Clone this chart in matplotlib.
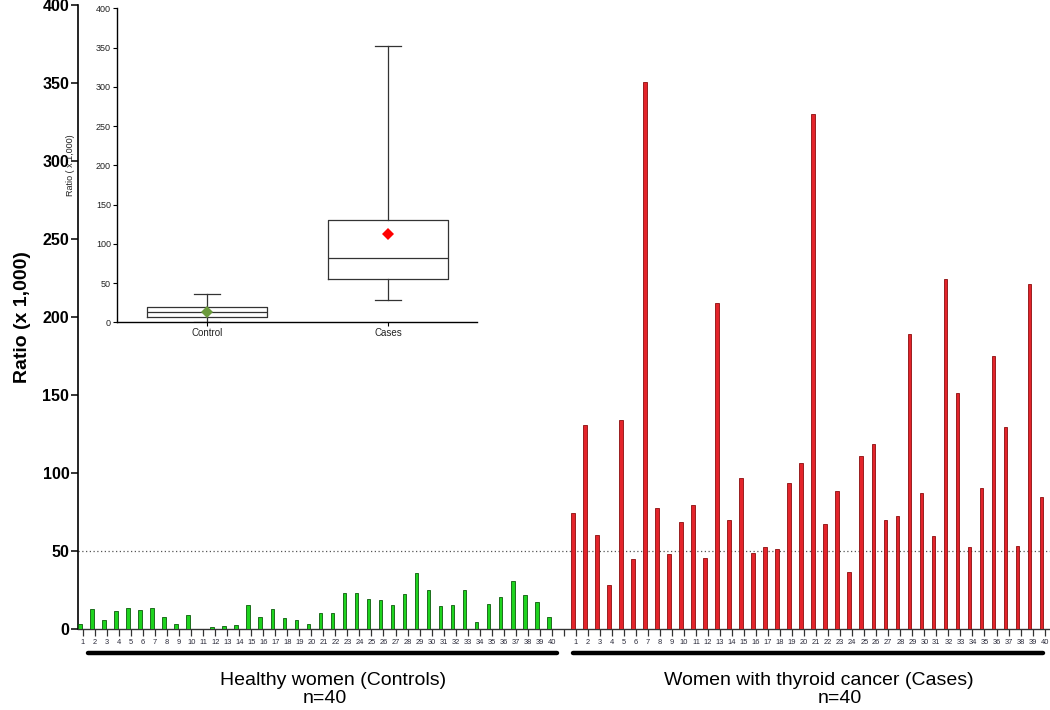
import matplotlib
matplotlib.use("Agg")
import matplotlib.pyplot as plt
import matplotlib.transforms as mtransforms
import numpy as np

plt.rcParams["font.family"] = ["Liberation Sans", "DejaVu Sans"]

# ratio (x 1,000) per subject
controls = [3.8, 13.4, 5.8, 11.7, 14.0, 12.8, 14.0, 8.1, 3.2, 9.0,
            0.6, 1.7, 2.0, 2.6, 16.0, 7.9, 13.2, 7.2, 6.2, 3.8,
            10.4, 10.4, 23.5, 23.5, 19.4, 19.0, 16.0, 23.0, 36.5, 25.2,
            15.1, 16.0, 25.2, 5.1, 16.4, 20.7, 31.1, 22.4, 17.7, 7.9]
cases = [74.4, 130.8, 60.5, 28.2, 134.6, 45.5, 351.0, 77.8, 48.1, 68.8,
         79.5, 46.0, 209.5, 69.9, 97.2, 49.1, 53.0, 51.3, 94.0, 106.8,
         330.4, 67.9, 88.5, 36.8, 111.5, 119.2, 70.1, 72.9, 189.2, 87.2,
         60.0, 224.7, 151.3, 52.8, 90.8, 175.1, 130.0, 53.8, 221.7, 85.0]
cutoff = 50

# inset box plot summary
box_labels = ["Control", "Cases"]
box_q1 = [6.4, 55.6]
box_med = [12.7, 82.4]
box_q3 = [19.5, 130.8]
box_lo = [0.6, 28.4]
box_hi = [36.0, 352.4]
box_mean = [12.7, 112.0]

group_titles = ["Healthy women (Controls)", "Women with thyroid cancer (Cases)"]
group_n = ["n=40", "n=40"]

fig = plt.figure(figsize=(10.5, 7.1), dpi=100)

# -----------------------------------------------------------------------------
# main bar chart
# -----------------------------------------------------------------------------
ax = fig.add_axes([0.074, 0.1134, 0.926, 0.8789])
n = len(controls)
x_ctrl = np.arange(1, n + 1)
x_case = np.arange(n + 2, 2 * n + 2)

ax.bar(x_ctrl - 0.25, controls, width=0.3, color="#1ed31e",
       edgecolor="#0b5a0b", linewidth=0.6, zorder=3)
ax.bar(x_case - 0.25, cases, width=0.3, color="#e3242b",
       edgecolor="#8c0d0d", linewidth=0.6, zorder=3)
ax.axhline(cutoff, color="#555555", linestyle=(0, (1, 2)), linewidth=0.9, zorder=2)

ticks = np.arange(1, 2 * n + 2)
labels = [str(i) for i in range(1, n + 1)] + [""] + [str(i) for i in range(1, n + 1)]
ax.set_xticks(ticks)
ax.set_xticklabels(labels, fontsize=5.4, color="#2a2a3a")
ax.tick_params(axis="x", length=5, width=0.9, pad=1.5, color="#333333")
ax.set_xlim(0.56, 81.45)

ax.set_ylim(0, 400)
ax.set_yticks(np.arange(0, 401, 50))
ax.tick_params(axis="y", length=5, width=1.1, pad=1, labelsize=11.5)
for t in ax.get_yticklabels():
    t.set_fontweight("bold")
ax.set_ylabel("Ratio (x 1,000)", fontsize=14, fontweight="bold", labelpad=8)

for s in ("top", "right"):
    ax.spines[s].set_visible(False)
ax.spines["left"].set_linewidth(1.2)
ax.spines["bottom"].set_linewidth(1.0)
ax.spines["bottom"].set_color("#333333")

# group brackets and captions under the axis
trans = mtransforms.blended_transform_factory(ax.transData, ax.transAxes)
ax.plot([1.4, 40.4], [-0.0375, -0.0375], color="black", lw=3.2,
        transform=trans, clip_on=False, solid_capstyle="round")
ax.plot([41.8, 80.9], [-0.0375, -0.0375], color="black", lw=3.2,
        transform=trans, clip_on=False, solid_capstyle="round")
ax.text(21.8, -0.081, group_titles[0], transform=trans, ha="center", va="center",
        fontsize=14)
ax.text(21.1, -0.11, group_n[0], transform=trans, ha="center", va="center",
        fontsize=14)
ax.text(62.2, -0.081, group_titles[1], transform=trans, ha="center", va="center",
        fontsize=14)
ax.text(64.0, -0.11, group_n[1], transform=trans, ha="center", va="center",
        fontsize=14)

# -----------------------------------------------------------------------------
# inset box plot
# -----------------------------------------------------------------------------
ins = fig.add_axes([0.111, 0.546, 0.3433, 0.4423])
stats = [dict(label=box_labels[i], q1=box_q1[i], med=box_med[i], q3=box_q3[i],
              whislo=box_lo[i], whishi=box_hi[i], mean=box_mean[i])
         for i in range(2)]
art = ins.bxp(stats, positions=[1, 2], widths=0.66, showmeans=True,
              showfliers=False,
              boxprops=dict(color="#333333", linewidth=0.9),
              medianprops=dict(color="#333333", linewidth=0.9),
              whiskerprops=dict(color="#333333", linewidth=0.9),
              capprops=dict(color="#333333", linewidth=0.9),
              capwidths=0.145,
              meanprops=dict(marker="D", markersize=6.5, markeredgewidth=0))
for m, c in zip(art["means"], ["#6b9a3c", "#ff0000"]):
    m.set_markerfacecolor(c)
    m.set_zorder(4)

ins.set_xlim(0.5, 2.49)
ins.set_ylim(0, 400)
ins.set_yticks(np.arange(0, 401, 50))
ins.tick_params(axis="y", length=3, width=0.8, pad=1, labelsize=6.5,
                labelcolor="#222222")
ins.tick_params(axis="x", length=3, width=0.8, pad=1, labelsize=7,
                labelcolor="#222222")
ins.set_ylabel("Ratio ( x 1,000)", fontsize=6.5, color="#222222")
ins.yaxis.set_label_coords(-0.115, 0.5)
for s in ("top", "right"):
    ins.spines[s].set_visible(False)
ins.spines["left"].set_linewidth(1.0)
ins.spines["bottom"].set_linewidth(1.0)
ins.patch.set_alpha(0)

fig.savefig("out.png", dpi=100)
